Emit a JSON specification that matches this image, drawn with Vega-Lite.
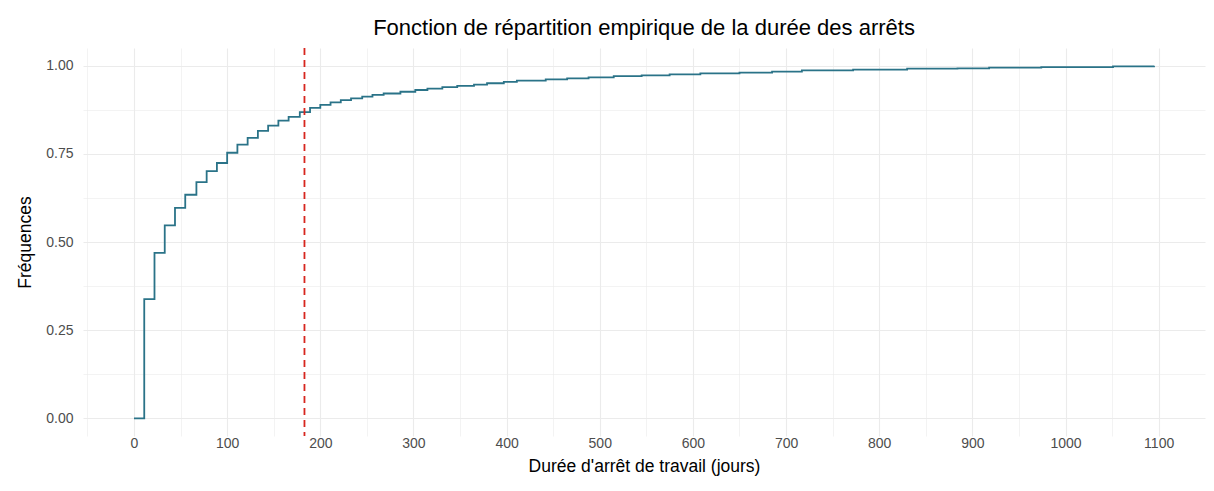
{
  "$schema": "https://vega.github.io/schema/vega-lite/v6.json",
  "autosize": {"type": "none"},
  "padding": {"left": 83, "top": 48, "right": 9, "bottom": 55},
  "width": 1122,
  "height": 388,
  "background": "white",
  "config": {
    "font": "Liberation Sans",
    "view": {"stroke": null},
    "axis": {
      "domain": false,
      "ticks": false,
      "tickSize": 0,
      "grid": true,
      "gridColor": "#ebebeb",
      "labelColor": "#4d4d4d",
      "labelFont": "Liberation Sans",
      "labelFontSize": 14,
      "titleFont": "Liberation Sans",
      "titleFontSize": 17.5,
      "titleFontWeight": "normal",
      "titleColor": "#000000"
    }
  },
  "title": {
    "text": "Fonction de répartition empirique de la durée des arrêts",
    "font": "Liberation Sans",
    "fontSize": 22,
    "fontWeight": "normal",
    "color": "#000000",
    "anchor": "middle",
    "offset": 7
  },
  "layer": [
    {
      "data": {
        "values": [
          {"duree": 0, "freq": 0},
          {"duree": 11, "freq": 0.338},
          {"duree": 22, "freq": 0.469},
          {"duree": 33, "freq": 0.547},
          {"duree": 44, "freq": 0.597},
          {"duree": 55, "freq": 0.634},
          {"duree": 67, "freq": 0.670},
          {"duree": 78, "freq": 0.701},
          {"duree": 89, "freq": 0.724},
          {"duree": 100, "freq": 0.753},
          {"duree": 111, "freq": 0.776},
          {"duree": 122, "freq": 0.795},
          {"duree": 133, "freq": 0.815},
          {"duree": 144, "freq": 0.830},
          {"duree": 155, "freq": 0.844},
          {"duree": 166, "freq": 0.855},
          {"duree": 178, "freq": 0.868},
          {"duree": 189, "freq": 0.880},
          {"duree": 200, "freq": 0.889},
          {"duree": 211, "freq": 0.896},
          {"duree": 222, "freq": 0.902},
          {"duree": 233, "freq": 0.907},
          {"duree": 245, "freq": 0.912},
          {"duree": 256, "freq": 0.917},
          {"duree": 268, "freq": 0.921},
          {"duree": 286, "freq": 0.926},
          {"duree": 302, "freq": 0.931},
          {"duree": 315, "freq": 0.935},
          {"duree": 331, "freq": 0.939},
          {"duree": 347, "freq": 0.9425},
          {"duree": 365, "freq": 0.946},
          {"duree": 379, "freq": 0.950},
          {"duree": 397, "freq": 0.9537},
          {"duree": 411, "freq": 0.9575},
          {"duree": 442, "freq": 0.961},
          {"duree": 465, "freq": 0.964},
          {"duree": 488, "freq": 0.967},
          {"duree": 515, "freq": 0.970},
          {"duree": 545, "freq": 0.9726},
          {"duree": 575, "freq": 0.975},
          {"duree": 608, "freq": 0.978},
          {"duree": 650, "freq": 0.980},
          {"duree": 685, "freq": 0.983},
          {"duree": 717, "freq": 0.9868},
          {"duree": 772, "freq": 0.9887},
          {"duree": 830, "freq": 0.9915},
          {"duree": 884, "freq": 0.9924},
          {"duree": 918, "freq": 0.9943},
          {"duree": 974, "freq": 0.996},
          {"duree": 1051, "freq": 0.998},
          {"duree": 1095, "freq": 1.0}
        ]
      },
      "mark": {"type": "line", "interpolate": "step-after", "color": "#2a7388", "strokeWidth": 1.8},
      "encoding": {
        "x": {
          "field": "duree",
          "type": "quantitative",
          "title": "Durée d'arrêt de travail (jours)",
          "scale": {"domain": [-54.75, 1149.75], "nice": false, "zero": false},
          "axis": {
            "values": [-50, 0, 50, 100, 150, 200, 250, 300, 350, 400, 450, 500, 550, 600, 650, 700, 750, 800, 850, 900, 950, 1000, 1050, 1100],
            "format": "d",
            "labelExpr": "datum.value % 100 === 0 ? datum.label : ''",
            "gridWidth": {"condition": {"test": "datum.value % 100 === 0", "value": 1.1}, "value": 0.6},
            "labelPadding": 0,
            "titlePadding": 7
          }
        },
        "y": {
          "field": "freq",
          "type": "quantitative",
          "title": "Fréquences",
          "scale": {"domain": [-0.05, 1.05], "nice": false, "zero": false},
          "axis": {
            "values": [0, 0.125, 0.25, 0.375, 0.5, 0.625, 0.75, 0.875, 1.0],
            "labelExpr": "(datum.value * 4) % 1 === 0 ? format(datum.value, '.2f') : ''",
            "gridWidth": {"condition": {"test": "(datum.value * 4) % 1 === 0", "value": 1.1}, "value": 0.6},
            "labelPadding": 10,
            "titlePadding": 11
          }
        }
      }
    },
    {
      "data": {"values": [{"seuil": 183}]},
      "mark": {"type": "rule", "color": "#d7261e", "strokeWidth": 1.8, "strokeDash": [7, 5]},
      "encoding": {
        "x": {"field": "seuil", "type": "quantitative"}
      }
    }
  ]
}
